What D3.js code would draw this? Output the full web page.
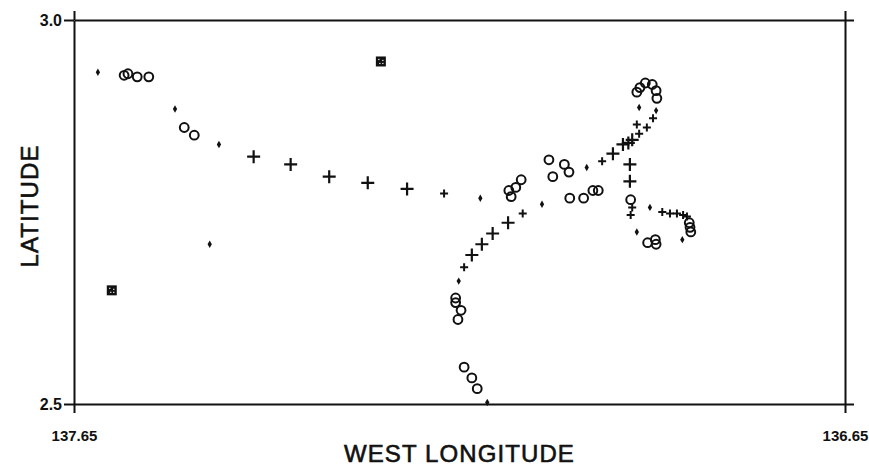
<!DOCTYPE html>
<html lang="en">

<head>
    <script src='https://d3js.org/d3.v7.min.js'></script>
    <style>
        body { margin: 0; background: #fff; }
        text { font-family: "Liberation Sans", Arial, sans-serif; fill: #111; }
    </style>
</head>

<body>
</body>

<script>

    // west longitude / latitude of each mark
    const circleLon = [137.585, 137.580, 137.568, 137.553, 137.507, 137.494,
                       137.086, 137.083, 137.077, 137.070, 137.034, 137.029, 137.014, 137.008,
                       137.007, 136.989, 136.977, 136.970,
                       137.155, 137.155, 137.148, 137.152, 137.144, 137.134, 137.127,
                       136.920, 136.916, 136.909, 136.900, 136.895, 136.894,
                       136.928, 136.906, 136.896, 136.895, 136.852, 136.851, 136.850];
    const circleLat = [2.928, 2.930, 2.926, 2.926, 2.860, 2.850,
                       2.778, 2.770, 2.782, 2.792, 2.818, 2.796, 2.812, 2.802,
                       2.768, 2.768, 2.778, 2.778,
                       2.638, 2.632, 2.622, 2.610, 2.548, 2.534, 2.520,
                       2.906, 2.912, 2.918, 2.916, 2.908, 2.898,
                       2.766, 2.710, 2.714, 2.708, 2.736, 2.730, 2.724];

    const plusBigLon = [137.417, 137.369, 137.319, 137.269, 137.218,
                        137.087, 137.107, 137.121, 137.134,
                        136.951, 136.938, 136.931, 136.926, 136.929, 136.929];
    const plusBigLat = [2.822, 2.812, 2.796, 2.788, 2.780,
                        2.736, 2.722, 2.708, 2.694,
                        2.826, 2.838, 2.840, 2.844, 2.812, 2.790];

    const plusSmallLon = [137.170, 137.068, 137.144, 136.965, 136.920, 136.917, 136.907, 136.899,
                          136.926, 136.928, 136.887, 136.877, 136.868, 136.860, 136.855];
    const plusSmallLat = [2.774, 2.748, 2.678, 2.816, 2.864, 2.852, 2.860, 2.872,
                          2.756, 2.746, 2.750, 2.748, 2.748, 2.746, 2.744];

    const dotLon = [137.619, 137.519, 137.462, 137.123, 137.043, 137.151, 137.114,
                    136.985, 136.917, 136.895, 136.903, 136.920, 136.861, 137.474];
    const dotLat = [2.932, 2.884, 2.838, 2.768, 2.760, 2.660, 2.502,
                    2.808, 2.886, 2.882, 2.756, 2.724, 2.714, 2.708];

    const squareLon = [137.252, 137.601];
    const squareLat = [2.946, 2.648];

    const xTicks = [137.65, 136.65];
    const yTicks = [2.5, 3.0];

    const width = 869;
    const height = 469;
    const margin = {left: 74, right: 24, top: 20, bottom: 65};

    var x = d3.scaleLinear()
                .domain([137.65, 136.65])
                .range([margin.left, width - margin.right]);

    var y = d3.scaleLinear()
                .domain([2.5, 3.0])
                .range([height - margin.bottom, margin.top]);

    var svg = d3.select("body")
                .append("svg")
                .attr("width", width)
                .attr("height", height);

    function zip(a, b) {
        return a.map(function (d, i) { return [d, b[i]]; });
    }

    // frame with outward ticks on all four sides
    var axBottom = svg.append("g")
        .attr("transform", "translate(0," + y(2.5) + ")")
        .call(d3.axisBottom(x).tickValues(xTicks).tickSize(9).tickSizeOuter(0)
                .tickPadding(17).tickFormat(d3.format(".2f")));
    var axTop = svg.append("g")
        .attr("transform", "translate(0," + y(3.0) + ")")
        .call(d3.axisTop(x).tickValues(xTicks).tickSize(9).tickSizeOuter(0).tickFormat(""));
    var axLeft = svg.append("g")
        .attr("transform", "translate(" + x(137.65) + ",0)")
        .call(d3.axisLeft(y).tickValues(yTicks).tickSize(10).tickSizeOuter(0)
                .tickPadding(2).tickFormat(d3.format(".1f")));
    var axRight = svg.append("g")
        .attr("transform", "translate(" + x(136.65) + ",0)")
        .call(d3.axisRight(y).tickValues(yTicks).tickSize(9).tickSizeOuter(0).tickFormat(""));

    svg.selectAll(".domain, .tick line")
        .attr("stroke", "#111")
        .attr("stroke-width", 2);
    svg.selectAll(".tick text")
        .attr("fill", "#111")
        .style("font-family", "'Liberation Sans', Arial, sans-serif")
        .style("font-weight", "bold")
        .style("font-size", "15px");
    axLeft.selectAll("text")
        .style("font-size", "16px");

    svg.append("text")
        .attr("x", (x(137.65) + x(136.65)) / 2)
        .attr("y", 462)
        .attr("text-anchor", "middle")
        .style("font-size", "24px")
        .style("letter-spacing", "1.1px")
        .attr("stroke", "#111")
        .attr("stroke-width", 0.6)
        .text("WEST LONGITUDE");

    svg.append("text")
        .attr("transform", "translate(38,206) rotate(-90)")
        .attr("text-anchor", "middle")
        .style("font-size", "24px")
        .style("letter-spacing", "1.1px")
        .attr("stroke", "#111")
        .attr("stroke-width", 0.6)
        .text("LATITUDE");

    var marks = svg.append("g");

    marks.selectAll(".circ")
        .data(zip(circleLon, circleLat))
        .enter()
        .append("circle")
        .attr("cx", function (d) { return x(d[0]); })
        .attr("cy", function (d) { return y(d[1]); })
        .attr("r", 4.4)
        .attr("fill", "none")
        .attr("stroke", "#111")
        .attr("stroke-width", 2);

    function plus(lon, lat, arm, sw) {
        marks.selectAll(null)
            .data(zip(lon, lat))
            .enter()
            .append("path")
            .attr("d", function (d) {
                var px = x(d[0]), py = y(d[1]);
                return "M" + (px - arm) + "," + py + "H" + (px + arm) +
                       "M" + px + "," + (py - arm) + "V" + (py + arm);
            })
            .attr("stroke", "#111")
            .attr("stroke-width", sw);
    }
    plus(plusBigLon, plusBigLat, 6.5, 2.2);
    plus(plusSmallLon, plusSmallLat, 4, 2);

    marks.selectAll(".dot")
        .data(zip(dotLon, dotLat))
        .enter()
        .append("path")
        .attr("transform", function (d) { return "translate(" + x(d[0]) + "," + y(d[1]) + ")"; })
        .attr("d", d3.symbol().type(d3.symbolDiamond).size(16))
        .attr("fill", "#111");

    var sq = marks.selectAll(".sq")
        .data(zip(squareLon, squareLat))
        .enter()
        .append("g")
        .attr("transform", function (d) { return "translate(" + x(d[0]) + "," + y(d[1]) + ")"; });
    sq.append("rect")
        .attr("x", -5).attr("y", -5)
        .attr("width", 10).attr("height", 10)
        .attr("fill", "#111");
    [[-2, -2], [2, -1], [-1, 2], [2, 2]].forEach(function (o) {
        sq.append("rect")
            .attr("x", o[0] - 0.6).attr("y", o[1] - 0.6)
            .attr("width", 1.2).attr("height", 1.2)
            .attr("fill", "#fff");
    });

</script>

</html>
